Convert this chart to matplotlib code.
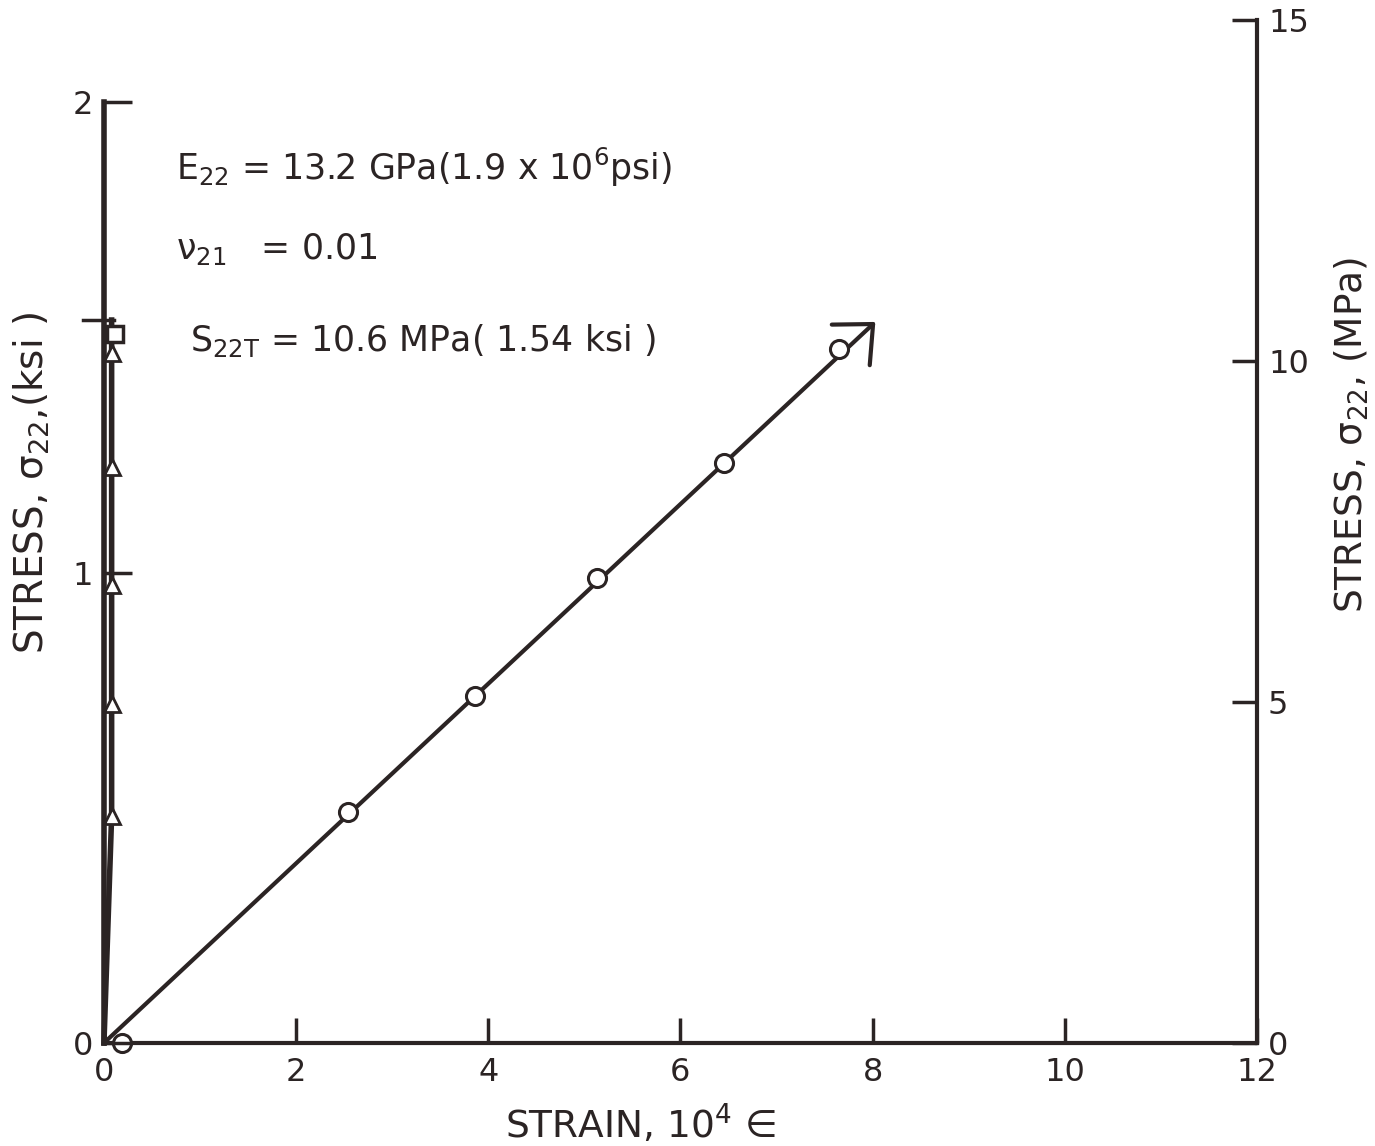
import matplotlib
matplotlib.use('Agg')
import matplotlib.pyplot as plt

plt.rcParams['font.family'] = ['DejaVu Sans']
plt.rcParams['mathtext.default'] = 'regular'

INK = '#2b2424'
KSI_PER_MPA = 1 / 6.895

# longitudinal strain (10^4 e) vs stress (MPa), open circles
strain_long = [0.19, 2.54, 3.86, 5.13, 6.45, 7.65]
stress_long = [0.0, 3.38, 5.09, 6.82, 8.50, 10.18]

# transverse strain, triangles
strain_trans = [0.0, 0.08, 0.08, 0.08, 0.08, 0.08]
stress_trans = [0.0, 3.33, 4.97, 6.72, 8.45, 10.12]

# failure
fail_strain_long = 8.05
fail_strain_trans = 0.08
fail_stress = 10.6

fig = plt.figure(figsize=(13.75, 11.46), dpi=100)
ax = fig.add_axes([0.0756, 0.0899, 0.8385, 0.8927])
ax_k = ax.twinx()

ax.set_xlim(0, 12)
ax.set_ylim(0, 15)
ax_k.set_ylim(0, 15 * KSI_PER_MPA)

# fitted line from origin to failure arrow
ax.annotate('', xy=(fail_strain_long, fail_stress), xytext=(0, 0),
            arrowprops=dict(arrowstyle='->,head_length=2.2,head_width=2.0',
                            color=INK, lw=3), annotation_clip=False)
ax.plot(strain_long, stress_long, 'o', ms=13, mfc='white', mec=INK, mew=2.2,
        clip_on=False, zorder=5)

# transverse curve
ax.plot(strain_trans + [fail_strain_trans], stress_trans + [fail_stress],
        color=INK, lw=4, clip_on=False, zorder=4)
ax.plot(strain_trans[1:], stress_trans[1:], '^', ms=11, mfc='white', mec=INK,
        mew=2, clip_on=False, zorder=5)
ax.plot([fail_strain_trans + 0.04], [fail_stress - 0.2], 's', ms=11, mfc='white',
        mec=INK, mew=2.5, clip_on=False, zorder=5)
ax.plot([-0.22, 0.1], [fail_stress, fail_stress], color=INK, lw=2.5, clip_on=False)

# spines
for s in ['top', 'left']:
    ax.spines[s].set_visible(False)
for s in ['top', 'right', 'bottom']:
    ax_k.spines[s].set_visible(False)
ax.spines['bottom'].set_bounds(0, 12)
ax.spines['right'].set_bounds(0, 15)
ax_k.spines['left'].set_bounds(0, 2)
ax.spines['bottom'].set_linewidth(3)
ax.spines['right'].set_linewidth(3)
ax_k.spines['left'].set_linewidth(4)
for sp in list(ax.spines.values()) + list(ax_k.spines.values()):
    sp.set_color(INK)

ax.set_xticks([0, 2, 4, 6, 8, 10, 12])
ax.set_xticklabels(['0', '2', '4', '6', '8', '10', '12'])
ax.yaxis.tick_right()
ax.yaxis.set_label_position('right')
ax.set_yticks([0, 5, 10, 15])
ax_k.yaxis.tick_left()
ax_k.yaxis.set_label_position('left')
ax_k.set_yticks([0, 1, 2])

ax.tick_params(axis='x', direction='in', length=18, width=2.5, pad=10,
               labelsize=23, colors=INK)
ax.tick_params(axis='y', direction='in', length=18, width=2.5, pad=8,
               labelsize=23, colors=INK)
ax_k.tick_params(axis='y', direction='in', length=20, width=2.5, pad=8,
                 labelsize=23, colors=INK)

ax.set_xlabel('STRAIN, 10$^4$ \u2208', fontsize=27, color=INK)
ax.xaxis.set_label_coords(0.465, -0.058)
ax.set_ylabel('STRESS, $\\sigma_{22}$, (MPa)', fontsize=27, color=INK)
ax.yaxis.set_label_coords(1.066, 0.594)
ax_k.set_ylabel('STRESS, $\\sigma_{22}$,(ksi )', fontsize=28, color=INK)
ax_k.yaxis.set_label_coords(-0.045, 0.547)

# property text
ax.text(0.75, 12.65, 'E$_{22}$ = 13.2 GPa(1.9 x 10$^6$psi)', fontsize=25, color=INK)
ax.text(0.75, 11.5, '$\\nu_{21}$   = 0.01', fontsize=25, color=INK)
ax.text(0.9, 10.15, 'S$_{22T}$ = 10.6 MPa( 1.54 ksi )', fontsize=25, color=INK)

fig.savefig('out.png', dpi=100)
